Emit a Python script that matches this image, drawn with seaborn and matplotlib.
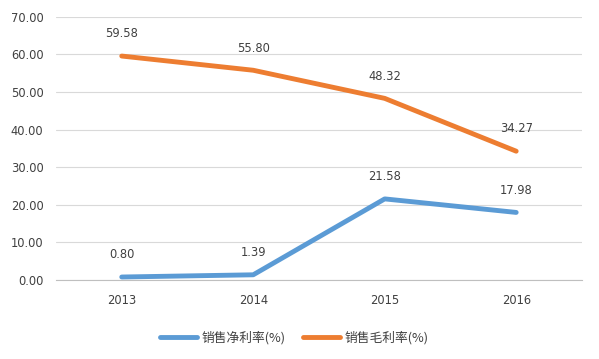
import numpy as np
import pandas as pd
import matplotlib
matplotlib.use("Agg")
import matplotlib.pyplot as plt
import seaborn as sns

# data
years = ["2013", "2014", "2015", "2016"]
net_margin = [0.80, 1.39, 21.58, 17.98]
gross_margin = [59.58, 55.80, 48.32, 34.27]
series_names = ["销售净利率(%)", "销售毛利率(%)"]
colors = ["#5B9BD5", "#ED7D31"]

df = pd.DataFrame({
    "year": years * 2,
    "value": net_margin + gross_margin,
    "series": [series_names[0]] * 4 + [series_names[1]] * 4,
})

sns.set_style("white")
plt.rcParams["font.family"] = ["Noto Sans CJK SC", "DejaVu Sans"]
num_font = ["DejaVu Sans"]
text_color = "#404040"

fig = plt.figure(figsize=(5.99, 3.59), dpi=100)
ax = fig.add_axes([0.0935, 0.22, 0.878, 0.733])

sns.lineplot(data=df, x="year", y="value", hue="series", palette=colors,
             linewidth=3.5, sort=False, ax=ax, zorder=3,
             solid_capstyle="round")

# data labels above each point
for vals in [net_margin, gross_margin]:
    for i, v in enumerate(vals):
        ax.annotate(f"{v:.2f}", (i, v), xytext=(0, 16), textcoords="offset points",
                    ha="center", va="center", fontsize=8.3, color=text_color,
                    family=num_font)

ax.set_xlim(-0.5, 3.5)
ax.set_ylim(0, 70)
ax.set_yticks(np.arange(0, 71, 10))
ax.set_yticklabels([f"{t:.2f}" for t in np.arange(0, 71, 10)])
ax.yaxis.grid(True, color="#D9D9D9", linewidth=0.8)
ax.set_axisbelow(True)
for s in ["top", "right", "left"]:
    ax.spines[s].set_visible(False)
ax.spines["bottom"].set_color("#BFBFBF")
ax.tick_params(axis="y", length=0, labelsize=8.3, labelcolor=text_color, pad=9)
ax.tick_params(axis="x", length=0, labelsize=8.3, labelcolor=text_color, pad=10)
for lbl in ax.get_xticklabels() + ax.get_yticklabels():
    lbl.set_family(num_font)
ax.set_xlabel("")
ax.set_ylabel("")

ax.legend(loc="upper center", bbox_to_anchor=(0.453, -0.15), ncol=2, frameon=False,
          fontsize=9.2, handlelength=2.9, columnspacing=1.3, handletextpad=0.4,
          labelcolor=text_color)

fig.savefig("out.png", dpi=100)
